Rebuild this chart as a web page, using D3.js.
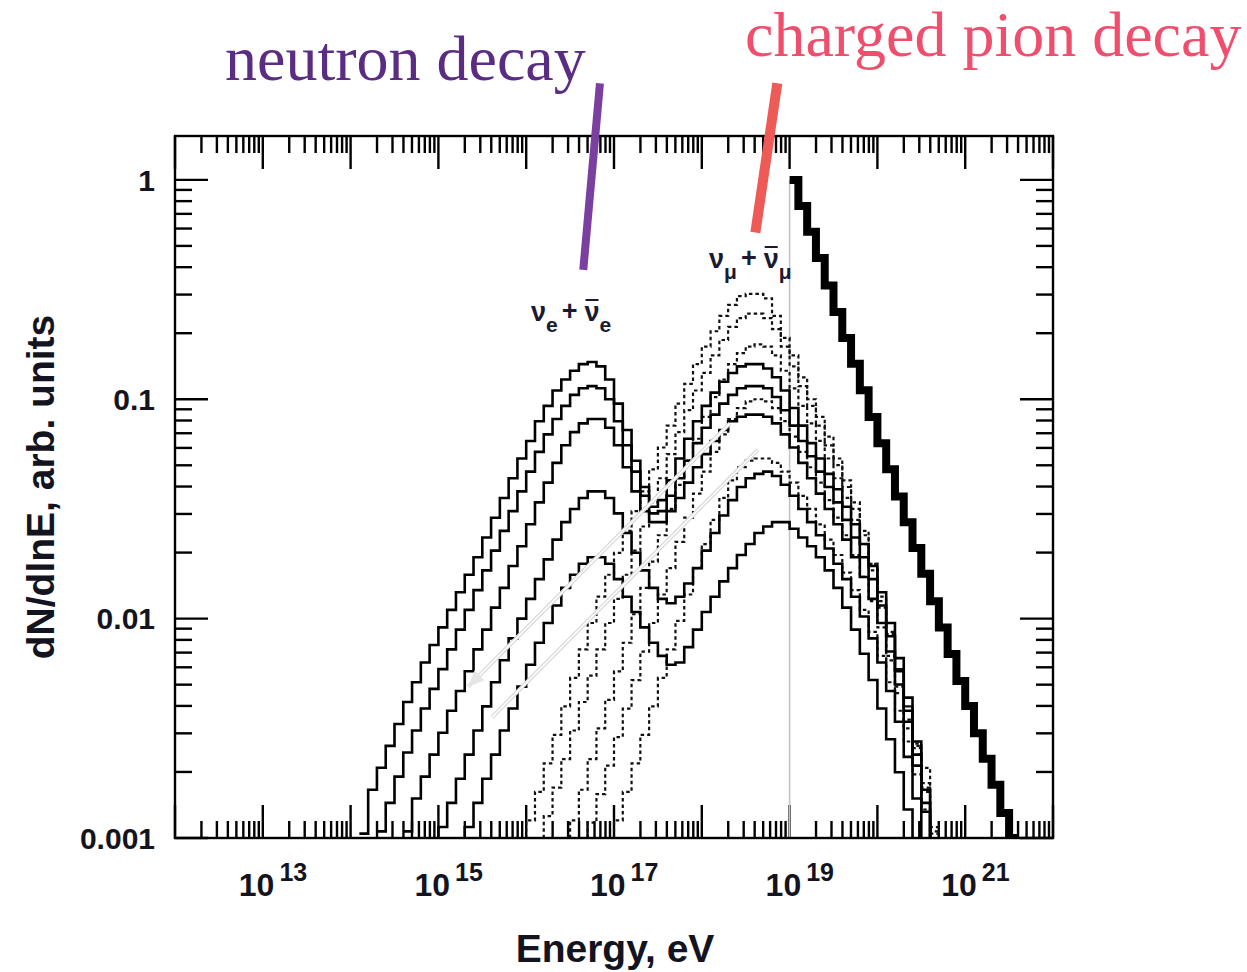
<!DOCTYPE html>
<html>
<head>
<meta charset="utf-8">
<script src="https://cdn.jsdelivr.net/npm/d3@7"></script>
<style>
  body { margin: 0; background: #fff; }
  svg { display: block; }
  .axis-text { font-family: "Liberation Sans", Arial, Helvetica, sans-serif; font-weight: bold; fill: #141420; }
  .greek { font-family: "Liberation Sans", Arial, sans-serif; font-weight: bold; fill: #1a1a33; }
  .note { font-family: "Liberation Serif", "Times New Roman", serif; }
</style>
</head>
<body>
<div id="chart"></div>
<script>
// Energy bins are 0.1 decade wide; each array holds log10(dN/dlnE) per bin,
// starting at log10(E/eV) = the matching entry of the *Start variables.
var binWidth = 0.1;

// solid histograms (five of them, top to bottom)
var solidStart = [14.1, 14.3, 14.6, 14.9, 15.2];
var solid1 = [-2.98, -2.78, -2.68, -2.58, -2.48, -2.38, -2.29, -2.20, -2.12, -2.04,
  -1.96, -1.88, -1.80, -1.72, -1.63, -1.54, -1.45, -1.36, -1.27, -1.19,
  -1.10, -1.03, -0.96, -0.91, -0.87, -0.84, -0.83, -0.85, -0.91, -1.02,
  -1.14, -1.28, -1.40, -1.49, -1.46, -1.37, -1.27, -1.18, -1.10, -1.03,
  -0.97, -0.92, -0.88, -0.85, -0.84, -0.84, -0.86, -0.90, -0.96, -1.04,
  -1.12, -1.20, -1.27, -1.34, -1.41, -1.49, -1.57, -1.66, -1.76, -1.88,
  -2.02, -2.18, -2.36, -2.56, -2.78, -3.05];
var solid2 = [-2.97, -2.84, -2.72, -2.61, -2.51, -2.41, -2.32, -2.23, -2.14, -2.05,
  -1.96, -1.87, -1.78, -1.69, -1.60, -1.51, -1.42, -1.33, -1.24, -1.16,
  -1.09, -1.03, -0.98, -0.95, -0.94, -0.95, -1.00, -1.10, -1.21, -1.33,
  -1.44, -1.52, -1.51, -1.44, -1.36, -1.28, -1.20, -1.13, -1.07, -1.02,
  -0.98, -0.95, -0.94, -0.94, -0.95, -0.99, -1.05, -1.12, -1.19, -1.26,
  -1.33, -1.40, -1.47, -1.55, -1.63, -1.72, -1.82, -1.94, -2.08, -2.24,
  -2.42, -2.62, -2.84, -3.05];
var solid3 = [-2.97, -2.82, -2.72, -2.62, -2.52, -2.42, -2.33, -2.24, -2.14, -2.05,
  -1.95, -1.86, -1.76, -1.67, -1.57, -1.47, -1.38, -1.29, -1.21, -1.15,
  -1.11, -1.09, -1.09, -1.13, -1.21, -1.31, -1.42, -1.51, -1.56, -1.56,
  -1.51, -1.45, -1.38, -1.31, -1.25, -1.19, -1.14, -1.10, -1.08, -1.07,
  -1.07, -1.08, -1.11, -1.16, -1.22, -1.29, -1.36, -1.43, -1.50, -1.57,
  -1.64, -1.72, -1.81, -1.91, -2.02, -2.15, -2.30, -2.47, -2.67, -2.88,
  -3.05];
var solid4 = [-3.05, -2.95, -2.84, -2.73, -2.62, -2.51, -2.40, -2.29, -2.19, -2.09,
  -2.00, -1.91, -1.82, -1.73, -1.64, -1.56, -1.50, -1.45, -1.42, -1.42,
  -1.45, -1.52, -1.61, -1.70, -1.78, -1.86, -1.91, -1.93, -1.90, -1.84,
  -1.77, -1.69, -1.61, -1.53, -1.46, -1.40, -1.36, -1.34, -1.33, -1.35,
  -1.39, -1.44, -1.50, -1.56, -1.62, -1.68, -1.75, -1.82, -1.90, -1.99,
  -2.09, -2.20, -2.33, -2.47, -2.63, -2.82, -3.05];
var solid5 = [-3.05, -2.95, -2.84, -2.73, -2.62, -2.51, -2.41, -2.31, -2.21, -2.11,
  -2.02, -1.94, -1.86, -1.80, -1.75, -1.72, -1.72, -1.75, -1.82, -1.90,
  -1.97, -2.04, -2.11, -2.17, -2.21, -2.20, -2.13, -2.05, -1.97, -1.90,
  -1.83, -1.77, -1.71, -1.66, -1.61, -1.58, -1.56, -1.56, -1.59, -1.63,
  -1.67, -1.72, -1.78, -1.86, -1.95, -2.05, -2.16, -2.28, -2.41, -2.55,
  -2.70, -2.87, -3.05];

// dotted histograms (five of them, top to bottom)
var dottedStart = [15.9, 16.1, 16.4, 16.6, 16.9];
var dotted1 = [-3.05, -2.92, -2.79, -2.66, -2.53, -2.40, -2.27, -2.14, -2.02, -1.90,
  -1.80, -1.70, -1.60, -1.51, -1.42, -1.32, -1.22, -1.12, -1.02, -0.93,
  -0.84, -0.76, -0.69, -0.62, -0.57, -0.53, -0.52, -0.52, -0.54, -0.62,
  -0.72, -0.80, -0.90, -1.00, -1.08, -1.17, -1.27, -1.37, -1.47, -1.60,
  -1.75, -1.95, -2.19, -2.34, -2.50, -2.59, -2.68, -3.05];
var dotted2 = [-3.05, -2.90, -2.77, -2.64, -2.51, -2.38, -2.26, -2.14, -2.02, -1.91,
  -1.80, -1.69, -1.58, -1.47, -1.36, -1.25, -1.15, -1.05, -0.96, -0.88,
  -0.80, -0.73, -0.67, -0.63, -0.61, -0.61, -0.63, -0.68, -0.76, -0.85,
  -0.94, -1.03, -1.12, -1.21, -1.30, -1.40, -1.50, -1.62, -1.75, -1.90,
  -2.06, -2.23, -2.40, -2.57, -2.75, -2.95, -3.05];
var dotted3 = [-3.05, -2.92, -2.78, -2.64, -2.50, -2.37, -2.24, -2.11, -1.98, -1.86,
  -1.74, -1.62, -1.50, -1.39, -1.28, -1.18, -1.08, -0.99, -0.91, -0.84,
  -0.79, -0.76, -0.75, -0.76, -0.80, -0.87, -0.95, -1.03, -1.11, -1.19,
  -1.27, -1.36, -1.45, -1.55, -1.66, -1.78, -1.92, -2.07, -2.23, -2.40,
  -2.58, -2.77, -2.97, -3.05];
var dotted4 = [-3.05, -2.93, -2.80, -2.67, -2.54, -2.41, -2.28, -2.15, -2.02, -1.89,
  -1.77, -1.65, -1.54, -1.43, -1.33, -1.24, -1.16, -1.09, -1.04, -1.01,
  -1.00, -1.01, -1.04, -1.10, -1.17, -1.24, -1.31, -1.38, -1.46, -1.54,
  -1.62, -1.71, -1.81, -1.92, -2.04, -2.17, -2.31, -2.46, -2.62, -2.79,
  -2.98, -3.05];
var dotted5 = [-3.05, -2.92, -2.79, -2.66, -2.53, -2.40, -2.27, -2.14, -2.01, -1.89,
  -1.77, -1.66, -1.55, -1.45, -1.37, -1.31, -1.28, -1.27, -1.27, -1.29,
  -1.33, -1.38, -1.44, -1.50, -1.57, -1.64, -1.71, -1.79, -1.87, -1.96,
  -2.06, -2.17, -2.29, -2.42, -2.56, -2.71, -2.87, -3.05];

// thick power-law histogram, dN/dlnE per bin from 10^19 eV
var powerLawStart = 19.0;
var powerLaw = [1, 0.76, 0.58, 0.44, 0.33, 0.25, 0.19, 0.145, 0.11, 0.083,
  0.063, 0.048, 0.036, 0.0275, 0.021, 0.016, 0.012, 0.0091, 0.0069, 0.0052,
  0.004, 0.003, 0.0023, 0.00175, 0.0013, 0.001];

// axis labels
var xLabelPowers = [13, 15, 17, 19, 21];
var yLabelValues = [1, 0.1, 0.01, 0.001];
var yLabelText = ["1", "0.1", "0.01", "0.001"];

// light grey arrows over the curves, [log10 E, log10 y] from -> to
var greyArrows = [
  { from: [18.32, -1.11], to: [15.34, -2.31], head: true },
  { from: [18.64, -1.23], to: [15.61, -2.45], head: false }
];

// pointer strokes from the slide captions, [log10 E, log10 y]
var pointers = [
  { from: [16.84, 0.44], to: [16.65, -0.41], color: "#7b3fa0", width: 8 },
  { from: [18.86, 0.44], to: [18.61, -0.24], color: "#ee5a56", width: 10 }
];

var width = 1247, height = 972;
var plot = { left: 175, right: 1053, top: 136, bottom: 838 };

var x = d3.scaleLog().domain([1e12, 1e22]).range([plot.left, plot.right]);
var y = d3.scaleLog().domain([1e-3, Math.pow(10, 0.2)]).range([plot.bottom, plot.top]);

var svg = d3.select("#chart").append("svg")
  .attr("width", width)
  .attr("height", height);

svg.append("rect").attr("width", width).attr("height", height).attr("fill", "#fff");

svg.append("clipPath").attr("id", "plot-clip")
  .append("rect")
  .attr("x", plot.left).attr("y", plot.top)
  .attr("width", plot.right - plot.left).attr("height", plot.bottom - plot.top);

//minor and major ticks on all four sides, pointing inwards
var xMajor = d3.range(12, 23).map(function (k) { return Math.pow(10, k); });
var xMinor = [];
d3.range(12, 22).forEach(function (k) {
  d3.range(2, 10).forEach(function (m) { xMinor.push(m * Math.pow(10, k)); });
});
var yMajor = [1e-3, 1e-2, 1e-1, 1];
var yMinor = [];
d3.range(-3, 0).forEach(function (k) {
  d3.range(2, 10).forEach(function (m) { yMinor.push(m * Math.pow(10, k)); });
});

var ticks = svg.append("g").attr("stroke", "#000").attr("stroke-width", 2.4);
var majorLen = 33, minorLen = 17;

function xTicks(vals, len) {
  vals.forEach(function (v) {
    ticks.append("line").attr("x1", x(v)).attr("x2", x(v))
      .attr("y1", plot.bottom).attr("y2", plot.bottom - len);
    ticks.append("line").attr("x1", x(v)).attr("x2", x(v))
      .attr("y1", plot.top).attr("y2", plot.top + len);
  });
}
function yTicks(vals, len) {
  vals.forEach(function (v) {
    ticks.append("line").attr("y1", y(v)).attr("y2", y(v))
      .attr("x1", plot.left).attr("x2", plot.left + len);
    ticks.append("line").attr("y1", y(v)).attr("y2", y(v))
      .attr("x1", plot.right).attr("x2", plot.right - len);
  });
}
xTicks(xMajor, majorLen);
xTicks(xMinor, minorLen);
yTicks(yMajor, majorLen);
yTicks(yMinor, minorLen);

// faint vertical line at 10^19 eV
svg.append("line")
  .attr("x1", x(1e19)).attr("x2", x(1e19))
  .attr("y1", y(1)).attr("y2", plot.bottom)
  .attr("stroke", "#c4c4c4").attr("stroke-width", 1.6);

var line = d3.line()
  .x(function (d) { return x(d[0]); })
  .y(function (d) { return y(d[1]); })
  .curve(d3.curveStepAfter);

function histPoints(start, vals, isLog) {
  var pts = vals.map(function (v, i) {
    return [Math.pow(10, start + i * binWidth), isLog ? Math.pow(10, v) : v];
  });
  var last = pts[pts.length - 1];
  pts.push([Math.pow(10, start + vals.length * binWidth), last[1]]);
  return pts;
}

var curves = svg.append("g").attr("clip-path", "url(#plot-clip)").attr("fill", "none");

var dotted = [dotted1, dotted2, dotted3, dotted4, dotted5];
dotted.forEach(function (vals, i) {
  curves.append("path")
    .attr("d", line(histPoints(dottedStart[i], vals, true)))
    .attr("stroke", "#111")
    .attr("stroke-width", 2.2)
    .attr("stroke-dasharray", "3.5,3");
});

var solid = [solid1, solid2, solid3, solid4, solid5];
solid.forEach(function (vals, i) {
  curves.append("path")
    .attr("d", line(histPoints(solidStart[i], vals, true)))
    .attr("stroke", "#000")
    .attr("stroke-width", 2.6);
});

curves.append("path")
  .attr("d", line(histPoints(powerLawStart, powerLaw, false)))
  .attr("stroke", "#000")
  .attr("stroke-width", 8)
  .attr("stroke-linejoin", "miter");

// grey arrows: light outline with a white core
function pt(p) { return [x(Math.pow(10, p[0])), y(Math.pow(10, p[1]))]; }
greyArrows.forEach(function (a) {
  var p0 = pt(a.from), p1 = pt(a.to);
  svg.append("line")
    .attr("x1", p0[0]).attr("y1", p0[1]).attr("x2", p1[0]).attr("y2", p1[1])
    .attr("stroke", "#d8d8d8").attr("stroke-width", 4);
  svg.append("line")
    .attr("x1", p0[0]).attr("y1", p0[1]).attr("x2", p1[0]).attr("y2", p1[1])
    .attr("stroke", "#fff").attr("stroke-width", 1.6);
  if (a.head) {
    var ang = Math.atan2(p1[1] - p0[1], p1[0] - p0[0]);
    var hl = 16, hw = 7;
    var bx = p1[0] - hl * Math.cos(ang), by = p1[1] - hl * Math.sin(ang);
    svg.append("path")
      .attr("d", "M" + p1[0] + "," + p1[1] +
        "L" + (bx + hw * Math.sin(ang)) + "," + (by - hw * Math.cos(ang)) +
        "L" + (bx - hw * Math.sin(ang)) + "," + (by + hw * Math.cos(ang)) + "Z")
      .attr("fill", "#e6e6e6");
  }
});

// frame
svg.append("rect")
  .attr("x", plot.left).attr("y", plot.top)
  .attr("width", plot.right - plot.left).attr("height", plot.bottom - plot.top)
  .attr("fill", "none").attr("stroke", "#000").attr("stroke-width", 2.4);

// x tick labels: 10 with a raised exponent
xLabelPowers.forEach(function (k) {
  var t = svg.append("text").attr("class", "axis-text")
    .attr("x", x(Math.pow(10, k)) - 24)
    .attr("y", 896)
    .style("font-size", "32px");
  t.append("tspan").text("10");
  t.append("tspan").attr("dx", 5).attr("dy", -15).style("font-size", "25px").text(k);
});

// y tick labels
yLabelValues.forEach(function (v, i) {
  svg.append("text").attr("class", "axis-text")
    .attr("x", 155)
    .attr("y", y(v))
    .attr("dy", "0.36em")
    .attr("text-anchor", "end")
    .style("font-size", "30px")
    .text(yLabelText[i]);
});

// axis titles
svg.append("text").attr("class", "axis-text")
  .attr("x", 615).attr("y", 962)
  .attr("text-anchor", "middle")
  .style("font-size", "39px")
  .text("Energy, eV");

svg.append("text").attr("class", "axis-text")
  .attr("transform", "translate(54,487) rotate(-90)")
  .attr("text-anchor", "middle")
  .style("font-size", "39px")
  .text("dN/dlnE, arb. units");

// neutrino labels: one text each, subscripts as shifted tspans, overbar drawn after layout
function nuLabel(x0, base, sub) {
  var t = svg.append("text").attr("class", "greek")
    .attr("x", x0).attr("y", base)
    .style("font-size", "27px");
  t.append("tspan").text("ν");
  t.append("tspan").attr("dx", 0).attr("dy", 11).style("font-size", "21px").text(sub);
  t.append("tspan").attr("dx", 4).attr("dy", -12).text("+");
  t.append("tspan").attr("dx", 7).attr("dy", 1).text("ν");
  t.append("tspan").attr("dx", 0).attr("dy", 11).style("font-size", "21px").text(sub);
  var box = t.node().getExtentOfChar(3);
  svg.append("line")
    .attr("x1", box.x + 1).attr("x2", box.x + box.width - 1)
    .attr("y1", base - 21).attr("y2", base - 21)
    .attr("stroke", "#1a1a33").attr("stroke-width", 2);
}
nuLabel(531, 321, "e");
nuLabel(709, 268, "μ");

// slide captions and their pointer strokes
pointers.forEach(function (p) {
  var p0 = pt(p.from), p1 = pt(p.to);
  svg.append("line")
    .attr("x1", p0[0]).attr("y1", p0[1]).attr("x2", p1[0]).attr("y2", p1[1])
    .attr("stroke", p.color).attr("stroke-width", p.width);
});

svg.append("text").attr("class", "note")
  .attr("x", 225).attr("y", 80)
  .style("font-size", "64px")
  .attr("fill", "#5b2d82")
  .text("neutron decay");

svg.append("text").attr("class", "note")
  .attr("x", 745).attr("y", 56)
  .style("font-size", "64px")
  .attr("fill", "#ef4f6d")
  .text("charged pion decay");
</script>
</body>
</html>
